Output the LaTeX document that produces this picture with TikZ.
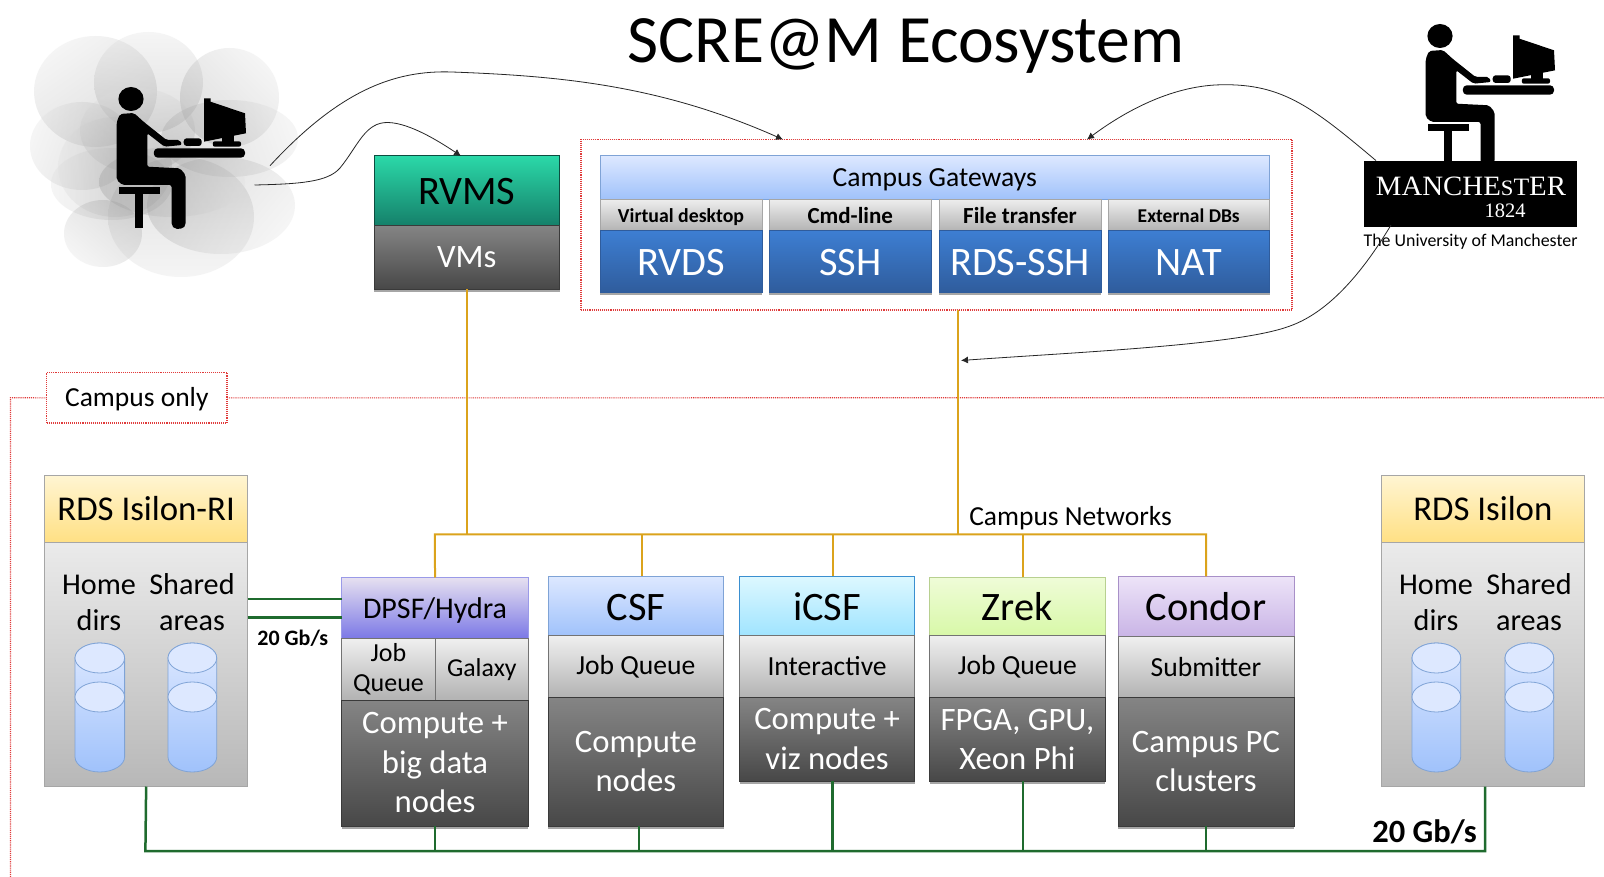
\documentclass[tikz,border=0pt]{standalone}
\usepackage{fontspec}
\setmainfont{Carlito}
\newfontfamily\serifl{Liberation Serif}
\usetikzlibrary{shadows,arrows.meta}
\definecolor{redd}{HTML}{E03A3A}
\definecolor{orng}{HTML}{DBA31C}
\definecolor{grn}{HTML}{1F6B2E}
\definecolor{darkb}{HTML}{3A3A3A}
\definecolor{cyt}{HTML}{DDE8FF}
\definecolor{cyb}{HTML}{A0C2FB}
\definecolor{cye}{HTML}{7FA3D6}
\definecolor{blue1}{HTML}{3D7ED2}
\definecolor{blue2}{HTML}{2F5C9C}
\definecolor{yel1}{HTML}{FFF5D2}
\definecolor{yel2}{HTML}{FFE084}
\definecolor{rvt}{HTML}{2BD8A8}
\definecolor{rvb}{HTML}{15806A}
\definecolor{dp1}{HTML}{E6E0F0}
\definecolor{dp2}{HTML}{7B78E6}
\definecolor{dp3}{HTML}{9A9AE8}
\definecolor{ic1}{HTML}{DDF8FF}
\definecolor{ic2}{HTML}{A0E4FF}
\definecolor{ic3}{HTML}{3A8FD0}
\definecolor{zr1}{HTML}{EFFCD8}
\definecolor{zr2}{HTML}{D8F8A8}
\definecolor{zr3}{HTML}{B8D090}
\definecolor{co1}{HTML}{EDE4F8}
\definecolor{co2}{HTML}{C9B4E6}
\definecolor{co3}{HTML}{A890C8}
\newcommand\fs[2]{\fontsize{#1}{#2}\selectfont}
\newcommand\dn[2]{\raisebox{-#1pt}[\height][\depth]{#2}}
\newcommand\bx[7]{\pgfmathsetmacro\bw{#4-#2}\pgfmathsetmacro\bh{#5-#3}%
  \node[#6,anchor=north west,inner sep=0pt,outer sep=0pt,minimum width=\bw pt,minimum height=\bh pt,align=center] (#1) at (#2,#3) {#7};}
\newcommand\cyl[2]{\pgfmathsetmacro\xm{(#1+#2)/2}\pgfmathsetmacro\ra{(#2-#1)/2}%
  \pgfmathsetmacro\k{\ra*0.55}%
  \pgfmathsetmacro\pa{\xm-\k}\pgfmathsetmacro\pb{\xm+\k}%
  \path[cylb,shade,top color=cyt,bottom color=cyb,draw=cye] (#1,658) -- (#1,757) .. controls (#1,765) and (\pa,772) .. (\xm,772) .. controls (\pb,772) and (#2,765) .. (#2,757) -- (#2,658) .. controls (#2,650) and (\pb,643) .. (\xm,643) .. controls (\pa,643) and (#1,650) .. (#1,658) -- cycle;
  \path[cylb,fill=cyt,draw=cye] (\xm,658) ellipse [x radius=\ra, y radius=15];
  \path[cylb,fill=cyt,draw=cye] (\xm,697) ellipse [x radius=\ra, y radius=15];}
\newcommand\cld[5]{\pgfmathsetmacro\cx{(#1+#2)/2}\pgfmathsetmacro\cy{(#3+#4)/2}\pgfmathsetmacro\rx{(#2-#1)/2}\pgfmathsetmacro\ry{(#4-#3)/2}%
  \path[shade,top color=gray!25,bottom color=gray!85,shading angle=#5,opacity=.3] (\cx,\cy) ellipse [x radius=\rx, y radius=\ry];}
\newcommand\person{%
  \fill (131,99) ellipse [x radius=12.6, y radius=12];
  \path[fill=black,rounded corners=2pt] (116.7,122) -- (120,114) -- (134,113) -- (143.5,121.7) -- (166.5,140) -- (180,140) -- (182,145) -- (164.5,146.7) -- (147.3,133.3) -- (147.3,166.7) -- (180,168.3) -- (185.6,175) -- (185.6,225) -- (183,228.5) -- (175,229) -- (171.5,225) -- (171.5,185) -- (122.5,185) -- (116.7,180) -- cycle;
  \fill (118.6,187.3) rectangle (160,194.3);
  \fill (135,194.3) rectangle (142.7,228.3);
  \path[fill=black,rounded corners=4pt] (153.8,148.3) rectangle (245,157.7);
  \path[fill=black,rounded corners=3pt] (183.7,138.3) rectangle (201.7,146);
  \fill (204,98.3) -- (210.5,98.3) -- (210.5,101.7) -- (245,113.3) -- (246,133.3) -- (204,141.7) -- cycle;
  \fill (222,130) rectangle (234,143);
  \path[fill=black,rounded corners=2pt] (212.8,141.3) rectangle (241,146.7);}
\tikzset{
  cylb/.style={line width=.8pt},
  basebox/.style={shade,line width=1pt},
  shd/.style={drop shadow={shadow xshift=0pt,shadow yshift=-2.5pt,opacity=.35,fill=black}},
  dark/.style={basebox,shd,top color=black!48,bottom color=black!72,draw=darkb,text=white,font=\fs{32.7}{39.5}},
  graybx/.style={basebox,top color=black!6,bottom color=black!30,draw=black!55,font=\fs{27.6}{30}},
  graygate/.style={basebox,top color=black!7,bottom color=black!30,draw=black!35},
  bluegate/.style={basebox,shd,top color=blue1,bottom color=blue2,draw=blue2,text=white,font=\fs{40.4}{44}},
  lbl/.style={basebox,top color=cyt,bottom color=cyb,draw=cye},
  ybox/.style={basebox,top color=yel1,bottom color=yel2,draw=black!35},
  bodyb/.style={basebox,top color=black!8,bottom color=black!28,draw=black!35},
  redbox/.style={draw=redd,densely dotted,line width=1.1pt},
  orl/.style={draw=orng,line width=2pt},
  grl/.style={draw=grn,line width=2.5pt},
  arw/.style={draw=black!85,line width=.8pt,-{Latex[length=7pt,width=7pt]}},
  txt/.style={inner sep=0pt,outer sep=0pt,align=center},
  stor/.style={txt,font=\fs{30.2}{36}},
  head/.style={font=\fs{40.4}{44}},
}
\begin{document}
\begin{tikzpicture}[x=1pt,y=-1pt]
\useasboundingbox (0,0) rectangle (1604,877);
\fill[white] (0,0) rectangle (1604,877);
% cloud
\cld{34}{157}{36}{147}{35}
\cld{94}{203}{32}{133}{0}
\cld{180}{279}{48}{147}{-45}
\cld{30}{134}{102}{190}{70}
\cld{161}{298}{100}{177}{-70}
\cld{80}{195}{88}{173}{10}
\cld{58}{172}{117}{217}{90}
\cld{51}{172}{148}{220}{90}
\cld{64}{142}{200}{267}{140}
\cld{108}{254}{157}{277}{180}
\cld{147}{295}{157}{254}{-130}
\cld{99}{245}{147}{217}{-90}
\person
\begin{scope}[shift={(1309,-63)}]\person\end{scope}
% title
\node[txt] (title) at (906,46) {\fs{67.7}{70}SCRE@M Ecosystem};
% logo
\bx{logo}{1364}{161}{1577}{227}{fill=black}{}
\node[txt,text=white,xscale=1.03] (mcr) at (1471,186) {\serifl\fs{28}{30}MANCHE{\fs{22}{30}S}{\fs{25}{30}T}ER};
\node[txt,text=white] (yr) at (1505,210.5) {\serifl\fs{20.5}{22}1824};
\node[txt] (uom) at (1470.5,241.5) {\fs{17.9}{20}The University of Manchester};
% campus-only boundary
\coordinate (cornerL) at (10.5,397.7);
\coordinate (bottomL) at (10.5,877);
\coordinate (rightE) at (1604,397.7);
\bx{campus}{46.7}{372.7}{227}{423}{redbox,fill=white}{\fs{27.5}{28}\dn{1.5}{Campus only}}
\draw[redbox] (bottomL) -- (cornerL) -- (campus.west);
\draw[redbox] (campus.east) -- (rightE);
% gateways
\bx{gatebox}{581}{139.5}{1292}{310}{redbox}{}
\bx{gateh}{600}{155.7}{1269.5}{199.3}{lbl}{\fs{27.6}{28}\dn{2}{Campus Gateways}}
\bx{g1}{600}{199.5}{762}{231}{graygate}{\bfseries\fs{19.8}{22}\dn{2}{Virtual desktop}}
\bx{g2}{769}{199.5}{931.5}{231}{graygate}{\bfseries\fs{23}{26}Cmd-line}
\bx{g3}{939}{199.5}{1101}{231}{graygate}{\bfseries\fs{23}{26}File transfer}
\bx{g4}{1108}{199.5}{1269.5}{231}{graygate}{\bfseries\fs{19.5}{22}External DBs}
\bx{b1}{600}{231}{762}{293}{bluegate}{\dn{1}{RVDS}}
\bx{b2}{769}{231}{931.5}{293}{bluegate}{\dn{1}{SSH}}
\bx{b3}{939}{231}{1101}{293}{bluegate}{\dn{1}{RDS-SSH}}
\bx{b4}{1108}{231}{1269.5}{293}{bluegate}{\dn{1}{NAT}}
% RVMS
\bx{rvms}{374}{156}{559.5}{225.5}{basebox,head,top color=rvt,bottom color=rvb,draw=rvb!60!black}{\dn{1}{RVMS}}
\bx{vms}{374}{225.5}{559.5}{289.5}{dark}{VMs}
% bus coordinates
\coordinate (obL) at (434.8,534.3);
\coordinate (obR) at (1206,534.3);
\coordinate (gbL) at (145.4,851);
\coordinate (gbR) at (1485,851);
\coordinate (l1) at (300,599);
\coordinate (l2) at (300,617.7);
% storage left
\bx{rdsri}{44.6}{475.7}{247.7}{542.3}{ybox}{\fs{34.8}{36}RDS Isilon-RI}
\bx{rdsrib}{44.6}{542.3}{247.7}{786.5}{bodyb}{}
\node[stor] (h1) at (99,602.5) {Home\\dirs};
\node[stor] (s1) at (192,602.5) {Shared\\areas};
\cyl{75}{124.6}
\cyl{168}{216.7}
% storage right
\bx{rds}{1381}{475.7}{1584.7}{542.3}{ybox}{\fs{34.8}{36}RDS Isilon}
\bx{rdsb}{1381}{542.3}{1584.7}{786.5}{bodyb}{}
\node[stor] (h2) at (1436,602.5) {Home\\dirs};
\node[stor] (s2) at (1529,602.5) {Shared\\areas};
\cyl{1412}{1460.7}
\cyl{1505}{1553.7}
% clusters
\bx{dpsf}{341.7}{577.5}{528.4}{638.7}{basebox,top color=dp1,bottom color=dp2,draw=dp3}{\fs{30}{32}\dn{2}{DPSF/Hydra}}
\bx{dpj}{341.7}{638.7}{435.3}{700}{graybx,font=\fs{26}{30}}{Job\\Queue}
\bx{dpg}{435.3}{638.7}{528.4}{700}{graybx,font=\fs{25.8}{30}}{Galaxy}
\bx{dpc}{341.7}{700}{528.4}{826}{dark}{Compute +\\big data\\nodes}
\bx{csf}{548}{576.3}{723.7}{635.7}{basebox,head,top color=cyt,bottom color=cyb,draw=cye}{\dn{1.5}{CSF}}
\bx{csfq}{548}{635.7}{723.7}{697.3}{graybx}{Job Queue}
\bx{csfc}{548}{697.3}{723.7}{826}{dark}{Compute\\nodes}
\bx{icsf}{739.7}{576.3}{914.5}{635.7}{basebox,head,top color=ic1,bottom color=ic2,draw=ic3}{\dn{1}{iCSF}}
\bx{icsfq}{739.7}{635.7}{914.5}{697.3}{graybx}{Interactive}
\bx{icsfc}{739.7}{697.3}{914.5}{781.2}{dark}{Compute +\\viz nodes}
\bx{zrek}{929.7}{577}{1105}{635.7}{basebox,head,top color=zr1,bottom color=zr2,draw=zr3}{Zrek}
\bx{zrekq}{929.7}{635.7}{1105}{697.3}{graybx}{Job Queue}
\bx{zrekc}{929.7}{697.3}{1105}{781.2}{dark}{FPGA, GPU,\\Xeon Phi}
\bx{cond}{1118}{576.3}{1294}{636.7}{basebox,head,top color=co1,bottom color=co2,draw=co3}{Condor}
\bx{condq}{1118}{636.7}{1294}{697.3}{graybx}{Submitter}
\bx{condc}{1118}{697.3}{1294}{826}{dark}{Campus PC\\clusters}
% orange network
\draw[orl] (dpsf.north) -- (obL) -- (obR) -- (cond.north -| obR);
\draw[orl] (vms.south) -- (vms.south |- obL);
\draw[orl] ([xshift=21.5pt]gatebox.south) -- ([xshift=21.5pt]gatebox.south |- obL);
\draw[orl] ([xshift=6pt]csf.north) -- ([xshift=6pt]csf.north |- obL);
\draw[orl] ([xshift=6pt]icsf.north) -- ([xshift=6pt]icsf.north |- obL);
\draw[orl] ([xshift=5.4pt]zrek.north) -- ([xshift=5.4pt]zrek.north |- obL);
\node[txt] (net) at (1070.6,518) {\fs{27.5}{28}Campus Networks};
% green network
\draw[grl] (rdsrib.south) -- (gbL) -- (gbR) -- (rdsb.south -| gbR);
\draw[grl] (dpc.south) -- (dpc.south |- gbL);
\draw[grl] ([xshift=3.2pt]csfc.south) -- ([xshift=3.2pt]csfc.south |- gbL);
\draw[grl] ([xshift=5.6pt]icsfc.south) -- ([xshift=5.6pt]icsfc.south |- gbL);
\draw[grl] ([xshift=5.4pt]zrekc.south) -- ([xshift=5.4pt]zrekc.south |- gbL);
\draw[grl] (condc.south) -- (condc.south |- gbL);
\draw[grl] (rdsrib.east |- l1) -- (dpsf.west |- l1);
\draw[grl] (rdsrib.east |- l2) -- (dpsf.west |- l2);
\node[txt] (r1) at (292.8,638) {\bfseries\fs{22}{24}20 Gb/s};
\node[txt] (r2) at (1424.6,831.5) {\bfseries\fs{32.5}{34}20 Gb/s};
% curved arrows
\coordinate (u1) at (270,165.7);
\coordinate (u2) at (254.5,185);
\coordinate (m1) at (1376,160.6);
\coordinate (m2) at (1391,225);
\coordinate (t1) at (783,139.5);
\coordinate (t3) at (1087,139.5);
\coordinate (t4) at (961,360.5);
\draw[arw] (u1) .. controls (340,90) and (395,70) .. (452,72) .. controls (560,76) and (660,85) .. (t1);
\draw[arw] (u2) .. controls (300,184) and (328,182) .. (340,168) .. controls (358,146) and (365,122) .. (388,122.5) .. controls (410,123) and (440,142) .. (rvms.north -| 461,0);
\draw[arw] (m1) .. controls (1310,105) and (1280,82) .. (1215,85) .. controls (1165,88) and (1120,115) .. (t3);
\draw[arw] (m2) .. controls (1370,260) and (1335,310) .. (1290,326) .. controls (1240,345) and (1080,352) .. (t4);
\end{tikzpicture}
\end{document}
